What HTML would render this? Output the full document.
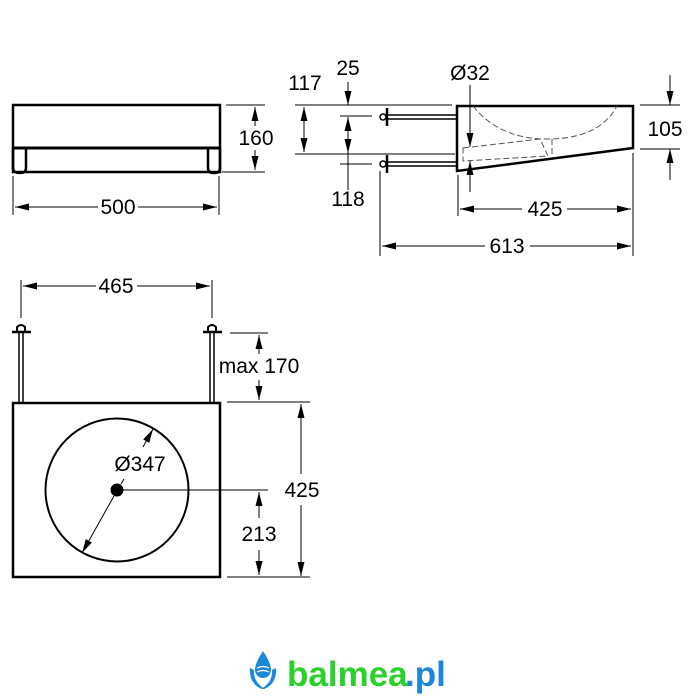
<!DOCTYPE html>
<html><head><meta charset="utf-8"><style>
html,body{margin:0;padding:0;background:#fff;width:700px;height:700px;overflow:hidden}
svg{display:block}
text{font-family:"Liberation Sans",sans-serif;font-size:21px;fill:#000}
</style></head><body>
<svg width="700" height="700" viewBox="0 0 700 700" xmlns="http://www.w3.org/2000/svg">
<defs>
<marker id="a" viewBox="0 0 14 7" refX="14" refY="3.5" markerWidth="14" markerHeight="7" orient="auto-start-reverse" markerUnits="userSpaceOnUse"><path d="M0,0 L14,3.5 L0,7 Z" fill="#000"/></marker>
</defs>
<g stroke="#000" fill="none" stroke-width="1">
<rect x="13" y="105" width="207" height="67" stroke-width="2.5"/>
<line x1="13" y1="148" x2="220" y2="148" stroke-width="3"/>
<path d="M13,148 V168 Q13,173 20,173 Q26,173 26,168 V148" stroke-width="2.5"/>
<path d="M208,148 V168 Q208,173 214,173 Q220,173 220,168 V148" stroke-width="2.5"/>
<line x1="226" y1="105" x2="265" y2="105"/>
<line x1="222" y1="172" x2="265" y2="172"/>
<line x1="255" y1="107" x2="255" y2="126" marker-start="url(#a)"/>
<line x1="255" y1="150" x2="255" y2="170" marker-end="url(#a)"/>
<line x1="13" y1="176" x2="13" y2="215"/>
<line x1="219" y1="176" x2="219" y2="215"/>
<line x1="15" y1="207" x2="98" y2="207" marker-start="url(#a)"/>
<line x1="138" y1="207" x2="217" y2="207" marker-end="url(#a)"/>

<path d="M457,106 H633 V148 L457,171 Z" stroke-width="2.5"/>
<path d="M473,106 Q500,140 550,139 Q600,138 617,106" stroke="#555" stroke-dasharray="6,3"/>
<path d="M463,148 L540,139 L548,156 L463,161 Z M552,139 V157" stroke="#555" stroke-dasharray="6,3"/>
<line x1="387" y1="115" x2="457" y2="115" stroke-width="1.5"/>
<line x1="387" y1="119" x2="457" y2="119" stroke-width="1.5"/>
<line x1="387" y1="162" x2="457" y2="162" stroke-width="1.5"/>
<line x1="387" y1="166" x2="457" y2="166" stroke-width="1.5"/>
<line x1="387" y1="108" x2="387" y2="126" stroke-width="2.5"/>
<line x1="387" y1="155" x2="387" y2="173" stroke-width="2.5"/>
<circle cx="383" cy="117" r="3" stroke-width="1.5"/>
<circle cx="383" cy="164" r="3" stroke-width="1.5"/>
<line x1="295" y1="105" x2="452" y2="105"/>
<line x1="295" y1="154" x2="455" y2="154"/>
<line x1="304" y1="107" x2="304" y2="152" marker-start="url(#a)" marker-end="url(#a)"/>
<line x1="340" y1="116" x2="372" y2="116"/>
<line x1="340" y1="164" x2="372" y2="164"/>
<line x1="348" y1="82" x2="348" y2="105" marker-end="url(#a)"/>
<line x1="348" y1="117" x2="348" y2="153" marker-start="url(#a)" marker-end="url(#a)"/>
<line x1="348" y1="153" x2="348" y2="190"/>
<line x1="470" y1="85" x2="470" y2="147" marker-end="url(#a)"/>
<line x1="470" y1="192" x2="470" y2="161" marker-end="url(#a)"/>
<line x1="640" y1="105" x2="680" y2="105"/>
<line x1="640" y1="149" x2="680" y2="149"/>
<line x1="670" y1="75" x2="670" y2="105" marker-end="url(#a)"/>
<line x1="670" y1="180" x2="670" y2="149" marker-end="url(#a)"/>
<line x1="458" y1="175" x2="458" y2="216"/>
<line x1="633" y1="153" x2="633" y2="256"/>
<line x1="460" y1="209" x2="522" y2="209" marker-start="url(#a)"/>
<line x1="567" y1="209" x2="631" y2="209" marker-end="url(#a)"/>
<line x1="380" y1="171" x2="380" y2="256"/>
<line x1="382" y1="246" x2="485" y2="246" marker-start="url(#a)"/>
<line x1="530" y1="246" x2="631" y2="246" marker-end="url(#a)"/>

<rect x="13" y="403" width="207" height="174" stroke-width="2.5"/>
<circle cx="117" cy="490" r="71.5" stroke-width="2"/>
<circle cx="117" cy="490" r="6" fill="#000"/>
<line x1="19" y1="333" x2="19" y2="402" stroke-width="1.5"/>
<line x1="23" y1="333" x2="23" y2="402" stroke-width="1.5"/>
<line x1="210" y1="333" x2="210" y2="402" stroke-width="1.5"/>
<line x1="214" y1="333" x2="214" y2="402" stroke-width="1.5"/>
<line x1="12" y1="332" x2="31" y2="332" stroke-width="2.5"/>
<line x1="203" y1="332" x2="222" y2="332" stroke-width="2.5"/>
<path d="M17,331 V327 Q21,323 25,327 V331" stroke-width="2"/>
<path d="M208,331 V327 Q212,323 216,327 V331" stroke-width="2"/>
<line x1="21" y1="280" x2="21" y2="318"/>
<line x1="212" y1="280" x2="212" y2="318"/>
<line x1="23" y1="286" x2="96" y2="286" marker-start="url(#a)"/>
<line x1="137" y1="286" x2="210" y2="286" marker-end="url(#a)"/>
<line x1="230" y1="333" x2="268" y2="333"/>
<line x1="227" y1="402" x2="310" y2="402"/>
<line x1="259" y1="335" x2="259" y2="354" marker-start="url(#a)"/>
<line x1="259" y1="380" x2="259" y2="400" marker-end="url(#a)"/>
<line x1="301" y1="404" x2="301" y2="474" marker-start="url(#a)"/>
<line x1="301" y1="505" x2="301" y2="576" marker-end="url(#a)"/>
<line x1="123" y1="490" x2="268" y2="490"/>
<line x1="227" y1="577" x2="310" y2="577"/>
<line x1="259" y1="492" x2="259" y2="518" marker-start="url(#a)"/>
<line x1="259" y1="550" x2="259" y2="575" marker-end="url(#a)"/>
<line x1="143" y1="447" x2="153" y2="429" marker-end="url(#a)"/>
<line x1="121" y1="484" x2="124" y2="479"/>
<line x1="114" y1="496" x2="82" y2="553" marker-end="url(#a)"/>
</g>
<g text-anchor="middle">
<text x="256" y="145">160</text>
<text x="118" y="214">500</text>
<text x="305" y="90">117</text>
<text x="348" y="75">25</text>
<text x="348" y="206">118</text>
<text x="470" y="80">Ø32</text>
<text x="665" y="136">105</text>
<text x="545" y="216">425</text>
<text x="507" y="253">613</text>
<text x="116" y="293">465</text>
<text x="259" y="373">max 170</text>
<text x="302" y="497">425</text>
<text x="259" y="541">213</text>
<text x="140" y="471">Ø347</text>
</g>
<g>
<path d="M263,651 Q255,663 255,670 A8,8 0 0 0 271,670 Q271,663 263,651 Z" fill="#1e88d8"/>
<path d="M250,668 Q249,684 262,689 L265,689 Q253,682 254,670 Z" fill="#1e88d8"/>
<path d="M276,668 Q277,684 264,689 L261,689 Q273,682 272,670 Z" fill="#1e88d8"/>
<path d="M257,668 Q263,665 269,668 M257,672 Q263,669 269,672" stroke="#fff" stroke-width="1.2" fill="none"/>
<text x="287" y="686" style="font-size:35px;font-weight:bold;fill:#2ad12a">balmea</text>
<text x="405" y="686" style="font-size:35px;font-weight:bold;fill:#1e88d8">.pl</text>
</g>
</svg>
</body></html>
